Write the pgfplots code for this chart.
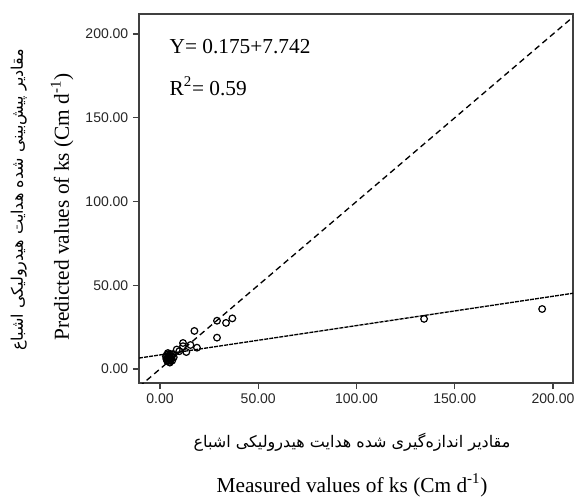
\documentclass[border=0pt]{standalone}
\usepackage{fontspec}
\setmainfont{Liberation Serif}
\newfontfamily\ticksans{Liberation Sans}
\newfontfamily\fafont[Script=Arabic]{DejaVu Sans}
\TeXXeTstate=1
\usepackage{pgfplots}
\pgfplotsset{compat=1.18}

% measured vs predicted ks
\pgfplotstableread{
x y
194.5 35.8
134.4 29.9
17.5 22.7
29.0 28.8
33.6 27.5
36.8 30.2
29.0 18.7
11.7 15.5
11.7 13.6
15.5 14.3
18.8 12.7
13.4 10.1
8.5 11.6
9.8 10.6
3.0 7.5
3.5 8.5
4.0 6.5
4.5 5.0
5.0 7.0
3.8 5.5
4.2 8.8
5.5 5.5
6.0 7.5
4.8 4.2
3.2 6.0
5.2 9.0
6.5 8.8
5.8 6.2
4.5 7.8
3.6 4.8
6.2 5.0
5.0 3.8
7.0 7.0
4.0 9.5
5.3 6.4
4.1 7.2
}\ksdata

\begin{document}
\begin{tikzpicture}
\begin{axis}[
    scale only axis,
    width=325.5pt,
    height=276.75pt,
    xmin=-10.7, xmax=210.2,
    ymin=-8.4, ymax=212,
    xtick={0,50,...,200},
    ytick={0,50,...,200},
    tick align=outside,
    tick pos=left,
    major tick length=4.5pt,
    axis line style={line width=1pt, black!75},
    tick style={line width=0.9pt, black!75},
    tick label style={font=\ticksans\fontsize{10.5}{12}\selectfont, black!85},
    /pgf/number format/fixed,
    /pgf/number format/fixed zerofill,
    /pgf/number format/precision=2,
    /pgf/number format/1000 sep={},
    /pgf/number format/assume math mode=true,
]
% y = x reference line
\addplot[black, line width=1pt, dash pattern=on 4.5pt off 3pt] coordinates {(-10.7,-10.7) (210.2,210.2)};
% fitted line
\addplot[black, line width=1pt, dash pattern=on 3pt off 0.8pt] coordinates {(-10.7,6.5) (210.2,45.2)};
\addplot[only marks, mark=o, mark size=2.5pt, mark options={line width=0.9pt, black}] table[x=x, y=y] {\ksdata};

\node[anchor=base west, font=\fontsize{16}{19}\selectfont] at (axis cs:2.5,188.7) {Y= 0.175+7.742};
\node[anchor=base west, font=\fontsize{16}{19}\selectfont] at (axis cs:2.5,163.6) {R\textsuperscript{2}= 0.59};
\end{axis}

\node[anchor=base, font=\fontsize{16}{19}\selectfont] at ([xshift=-3pt,yshift=-81.75pt]current axis.south) {Measured values of ks (Cm d\textsuperscript{-1})};
\node[anchor=base, font=\fafont\fontsize{12}{14}\selectfont] at ([xshift=-3pt,yshift=-48pt]current axis.south) {\beginR مقادیر اندازه‌گیری شده هدایت هیدرولیکی اشباع\endR};
\node[rotate=90, anchor=base, font=\fontsize{16}{19}\selectfont] at ([xshift=-52.5pt,yshift=-6.4pt]current axis.west) {Predicted values of ks (Cm d\textsuperscript{-1})};
\node[rotate=90, anchor=base, font=\fafont\fontsize{12}{14}\selectfont] at ([xshift=-87pt,yshift=-1pt]current axis.west) {\beginR مقادیر پیش‌بینی شده هدایت هیدرولیکی اشباع\endR};

\pgfresetboundingbox
\path ([xshift=-104.25pt,yshift=-86.25pt]current axis.south west) rectangle ([xshift=3pt,yshift=10.5pt]current axis.north east);
\end{tikzpicture}
\end{document}
